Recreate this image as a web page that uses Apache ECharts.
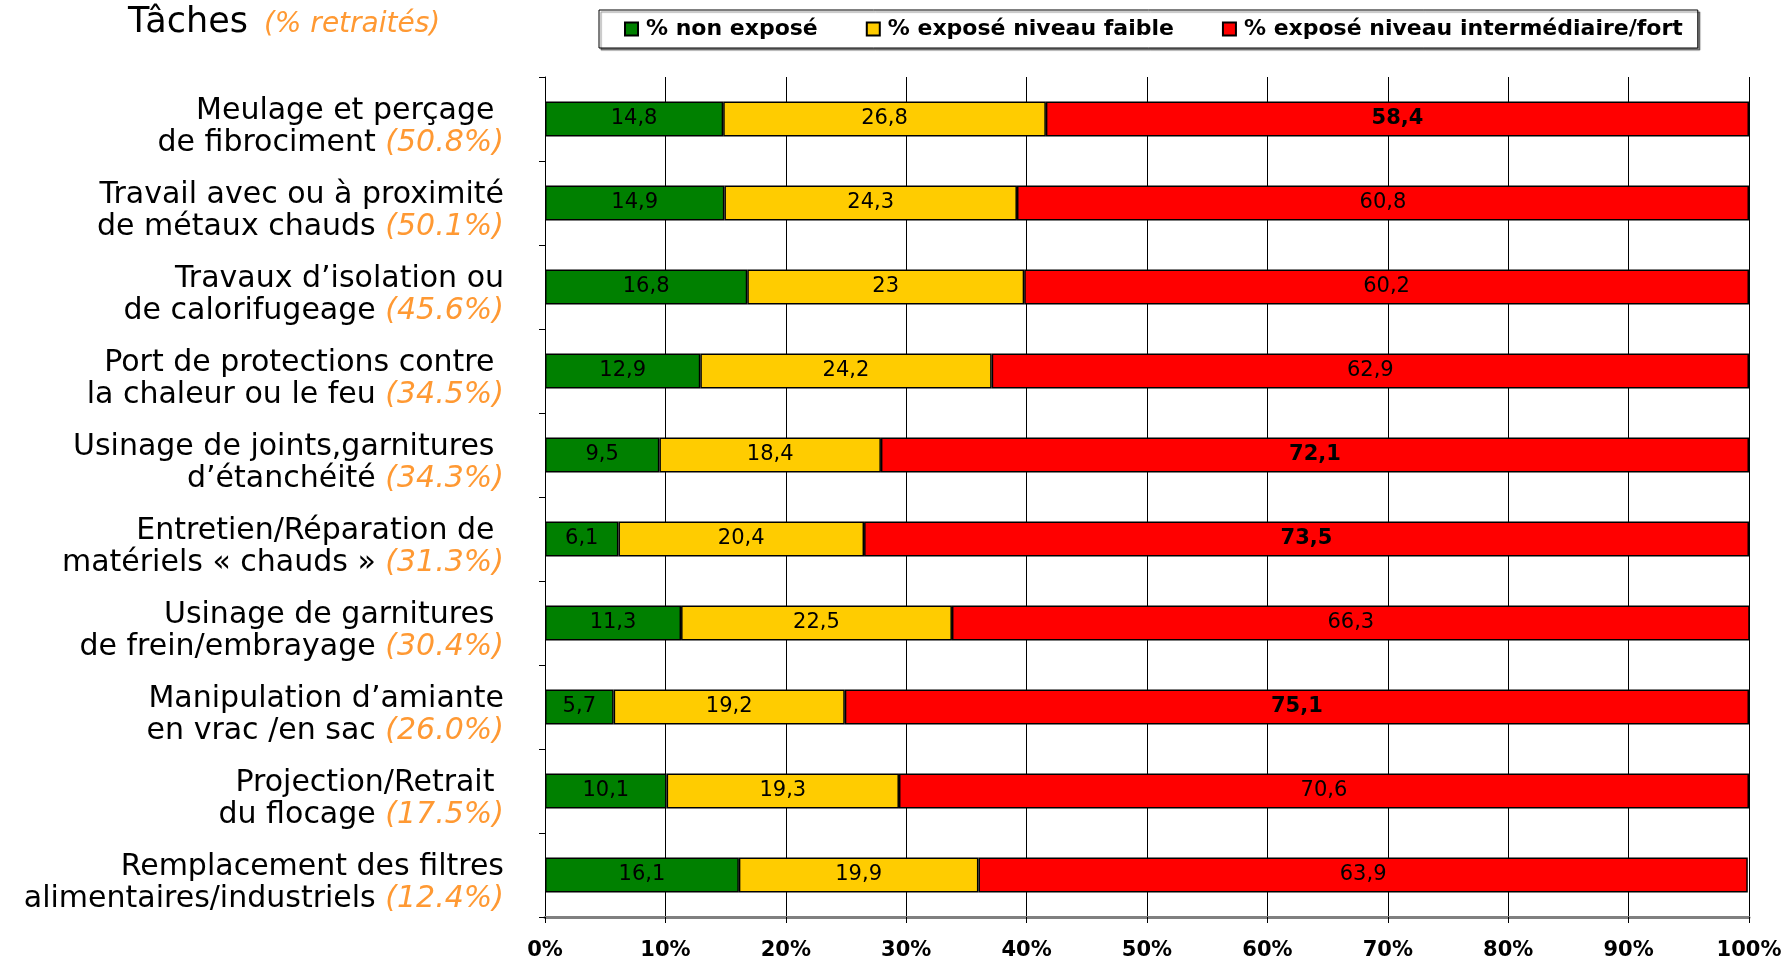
<!DOCTYPE html>
<html>
<head>
<meta charset="utf-8">
<script src="https://cdn.jsdelivr.net/npm/echarts@6/dist/echarts.min.js"></script>
<style>
html,body{margin:0;padding:0;background:#fff;}
#chart{width:1787px;height:962px;}
</style>
</head>
<body>
<div id="chart"></div>
<script>
// ---- data ----
const line1 = [
  'Meulage et perçage ',
  'Travail avec ou à proximité',
  'Travaux d\u2019isolation ou',
  'Port de protections contre ',
  'Usinage de joints,garnitures ',
  'Entretien/Réparation de ',
  'Usinage de garnitures ',
  'Manipulation d\u2019amiante',
  'Projection/Retrait ',
  'Remplacement des filtres'
];
const line2 = [
  'de fibrociment',
  'de métaux chauds',
  'de calorifugeage',
  'la chaleur ou le feu',
  'd\u2019étanchéité',
  'matériels « chauds »',
  'de frein/embrayage',
  'en vrac /en sac',
  'du flocage',
  'alimentaires/industriels'
];
const retiredPct = ['50.8%', '50.1%', '45.6%', '34.5%', '34.3%', '31.3%', '30.4%', '26.0%', '17.5%', '12.4%'];
const categories = line1.map((l, i) => String(i));

const nonExpose   = [14.8, 14.9, 16.8, 12.9, 9.5, 6.1, 11.3, 5.7, 10.1, 16.1];
const expFaible   = [26.8, 24.3, 23, 24.2, 18.4, 20.4, 22.5, 19.2, 19.3, 19.9];
const expInterFort= [58.4, 60.8, 60.2, 62.9, 72.1, 73.5, 66.3, 75.1, 70.6, 63.9];
const boldRedLabels = [0, 4, 5, 7];

const seriesNames = ['% non exposé', '% exposé niveau faible', '% exposé niveau intermédiaire/fort'];
const seriesColors = ['#008000', '#FFCC00', '#FF0000'];
const xTicks = [0, 10, 20, 30, 40, 50, 60, 70, 80, 90, 100];

// ---- chart ----
const FONT = '"DejaVu Sans", Verdana, sans-serif';
const chart = echarts.init(document.getElementById('chart'), null, {renderer: 'canvas'});

function fmt(v) { return String(v).replace('.', ','); }

function makeSeries(idx, values) {
  return {
    name: seriesNames[idx],
    type: 'bar',
    stack: 'total',
    barWidth: 35,
    data: values.map((v, i) => ({
      value: v,
      label: (idx === 2 && boldRedLabels.indexOf(i) >= 0) ? {fontWeight: 'bold'} : undefined
    })),
    itemStyle: {color: seriesColors[idx], borderColor: '#000', borderWidth: 1.5},
    label: {
      show: true,
      position: 'inside',
      color: '#000',
      fontFamily: FONT,
      fontSize: 21,
      formatter: p => fmt(p.value)
    },
    emphasis: {disabled: true}
  };
}

chart.setOption({
  animation: false,
  backgroundColor: '#fff',
  title: {
    text: '{a|Tâches}{b|(% retraités)}',
    left: 123,
    top: 0,
    textStyle: {
      fontWeight: 'normal',
      rich: {
        a: {fontFamily: FONT, fontSize: 35, fontWeight: 'normal', color: '#000'},
        b: {fontFamily: FONT, fontSize: 28, fontWeight: 'normal', fontStyle: 'italic', color: '#FF9933', padding: [4, 0, 0, 16]}
      }
    }
  },
  legend: {
    left: 599,
    top: 10,
    padding: [8, 15, 8, 25],
    itemGap: 48,
    itemWidth: 13,
    itemHeight: 13,
    icon: 'rect',
    borderColor: '#000',
    borderWidth: 1,
    backgroundColor: '#fff',
    shadowColor: 'rgba(0,0,0,0.45)',
    shadowOffsetX: 2,
    shadowOffsetY: 2,
    shadowBlur: 1,
    selectedMode: false,
    textStyle: {fontFamily: FONT, fontSize: 22, fontWeight: 'bold', color: '#000', padding: [0, 0, 0, 3]},
    data: seriesNames
  },
  grid: {left: 545, right: 38, top: 77, bottom: 45, containLabel: false},
  xAxis: {
    type: 'value',
    min: 0,
    max: 100,
    interval: 10,
    axisLine: {show: true, lineStyle: {color: '#808080', width: 3}},
    axisTick: {show: true, length: 6, lineStyle: {color: '#000', width: 1}},
    splitLine: {show: true, lineStyle: {color: '#000', width: 1}},
    axisLabel: {
      margin: 23,
      fontFamily: FONT,
      fontSize: 21,
      fontWeight: 'bold',
      color: '#000',
      formatter: v => (xTicks.indexOf(v) >= 0 ? v + '%' : '')
    }
  },
  yAxis: {
    type: 'category',
    inverse: true,
    data: categories,
    axisLine: {show: true, lineStyle: {color: '#000', width: 1}},
    axisTick: {show: true, length: 6, lineStyle: {color: '#000', width: 1}},
    axisLabel: {
      margin: 41,
      align: 'right',
      padding: [16, 0, 0, 0],
      formatter: (v, i) => '{a|' + line1[i] + '}\n{a|' + line2[i] + ' }{p|(' + retiredPct[i] + ')}',
      rich: {
        a: {fontFamily: FONT, fontSize: 30, color: '#000', lineHeight: 32},
        p: {fontFamily: FONT, fontSize: 30, color: '#FF9933', fontStyle: 'italic', lineHeight: 32}
      }
    }
  },
  series: [
    makeSeries(0, nonExpose),
    makeSeries(1, expFaible),
    makeSeries(2, expInterFort)
  ]
});
</script>
</body>
</html>
